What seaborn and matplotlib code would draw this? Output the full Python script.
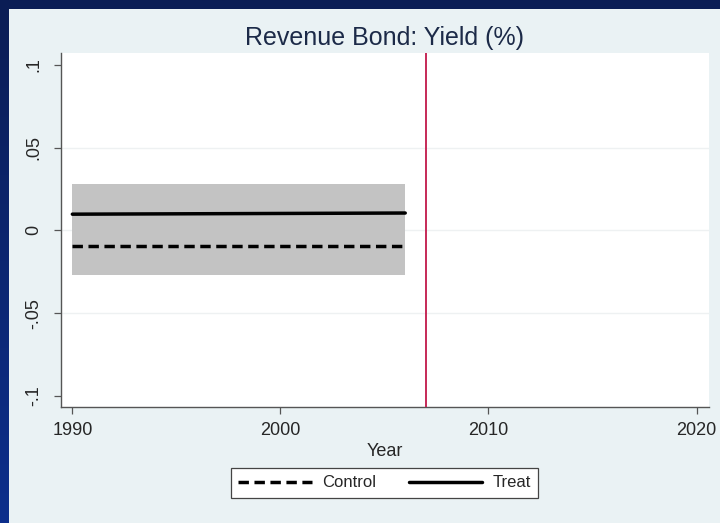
import numpy as np
import pandas as pd
import matplotlib
matplotlib.use("Agg")
import matplotlib.pyplot as plt
from matplotlib.patches import Rectangle
from matplotlib.lines import Line2D
import seaborn as sns

# Estimated paths over the pre-period and the shared confidence band
years = [1990, 2006]
treat = [0.0098, 0.0105]
control = [-0.0092, -0.0092]
band_lo = [-0.0270, -0.0270]
band_hi = [0.0278, 0.0278]
event_year = 2007

x_ticks = [1990, 2000, 2010, 2020]
y_ticks = [-0.1, -0.05, 0, 0.05, 0.1]
y_tick_labels = ["-.1", "-.05", "0", ".05", ".1"]

sns.set_theme(style="white")
plt.rcParams["font.family"] = ["Liberation Sans", "DejaVu Sans"]

df = pd.DataFrame({
    "Year": years * 2,
    "value": control + treat,
    "group": ["Control"] * len(years) + ["Treat"] * len(years),
})

fig = plt.figure(figsize=(7.2, 5.23), dpi=100)
fig.patch.set_facecolor("#0b2468")

# navy slide frame with a soft vertical gradient on the left strip
grad = fig.add_axes([0, 0, 1, 1], zorder=-10)
grad.imshow(np.linspace(0, 1, 256).reshape(-1, 1), aspect="auto",
            cmap=matplotlib.colors.LinearSegmentedColormap.from_list("nv", ["#0a1d55", "#0d2f8c"]),
            extent=[0, 1, 0, 1], origin="upper")
grad.set_axis_off()
fig.patches.append(Rectangle((9 / 720, 0), 1, 1 - 9 / 523, transform=fig.transFigure,
                             facecolor="#eaf2f4", edgecolor="none", zorder=-5))

ax = fig.add_axes([0.0843, 0.2224, 0.9004, 0.6757])
ax.set_facecolor("white")

ax.fill_between(years, band_lo, band_hi, color="#c3c3c3", linewidth=0, zorder=1)
for yv in [-0.05, 0, 0.05]:
    ax.axhline(yv, color="#eef1f2", lw=1.0, zorder=0.5)

sns.lineplot(data=df, x="Year", y="value", style="group",
             style_order=["Control", "Treat"],
             dashes={"Control": (3.0, 1.6), "Treat": ""},
             color="black", linewidth=2.5, ax=ax, legend=False, zorder=3)
ax.axvline(event_year, color="#c2184a", lw=1.3, zorder=4)

ax.set_xlim(1989.44, 2020.6)
ax.set_ylim(-0.1065, 0.107)
ax.set_xticks(x_ticks)
ax.set_xticklabels([str(t) for t in x_ticks], fontsize=13, color="#262626")
ax.set_yticks(y_ticks)
ax.set_yticklabels(y_tick_labels, fontsize=13, color="#262626", rotation=90, va="center")
ax.tick_params(axis="x", direction="out", length=5, width=0.9, color="#555555",
               bottom=True, pad=6)
ax.tick_params(axis="y", direction="out", length=5, width=0.9, color="#555555",
               left=True, pad=8)
for s in ["top", "right"]:
    ax.spines[s].set_visible(False)
for s in ["left", "bottom"]:
    ax.spines[s].set_color("#555555")
    ax.spines[s].set_linewidth(1.0)

ax.set_xlabel("Year", fontsize=13, color="#262626", labelpad=3)
ax.set_ylabel("")
ax.set_title("Revenue Bond: Yield (%)", fontsize=18, color="#1c2a48", pad=6)

handles = [Line2D([], [], color="black", lw=2.5, dashes=(3.0, 1.6)),
           Line2D([], [], color="black", lw=2.5)]
leg = fig.legend(handles, ["Control", "Treat"], loc="center", bbox_to_anchor=(0.534, 0.0765),
                 ncol=2, fontsize=12, handlelength=4.4, columnspacing=2.0,
                 frameon=True, fancybox=False, borderpad=0.45, handletextpad=0.6)
leg.get_frame().set_edgecolor("#444444")
leg.get_frame().set_linewidth(0.9)
leg.get_frame().set_facecolor("white")
leg.get_frame().set_alpha(1)
for t in leg.get_texts():
    t.set_color("#262626")

fig.savefig("out.png", dpi=100, facecolor=fig.get_facecolor())
